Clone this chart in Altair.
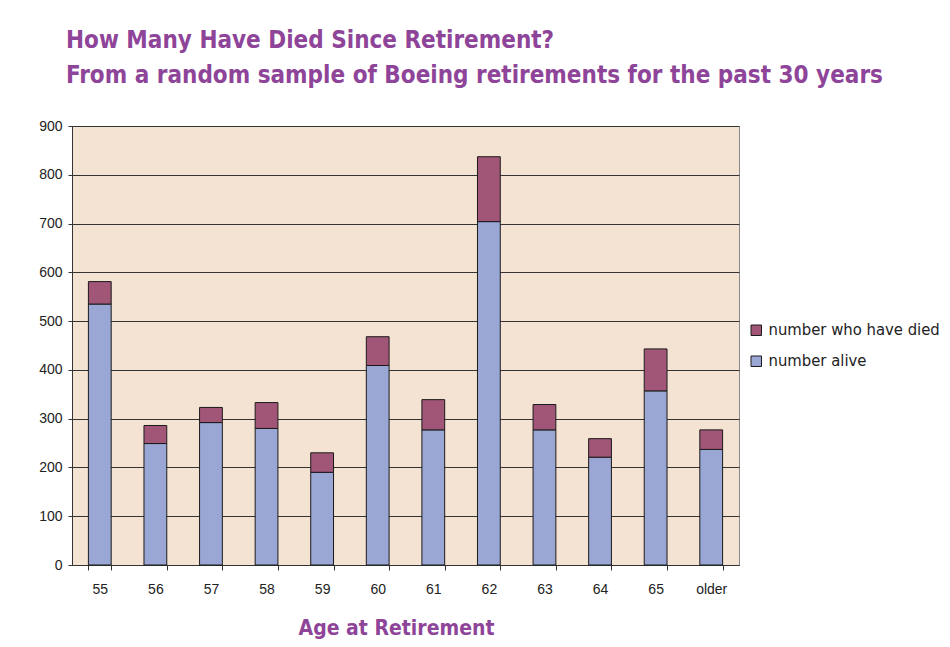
import altair as alt
import pandas as pd

ages = ["55", "56", "57", "58", "59", "60", "61", "62", "63", "64", "65", "older"]
alive = [535, 249, 292, 280, 190, 409, 277, 704, 277, 221, 357, 237]
died = [46, 37, 31, 53, 40, 59, 62, 133, 52, 38, 86, 40]
series = ["number who have died", "number alive"]
colors = ["#A15678", "#9AA6D4"]
y_ticks = [0, 100, 200, 300, 400, 500, 600, 700, 800, 900]

rows = []
for a, v in zip(ages, alive):
    rows.append({"age": a, "series": series[1], "value": v, "ord": 0})
for a, v in zip(ages, died):
    rows.append({"age": a, "series": series[0], "value": v, "ord": 1})
df = pd.DataFrame(rows)

purple = "#8E4599"
title_font = "Liberation Sans Narrow, DejaVu Sans Condensed, sans-serif"

chart = alt.Chart(df).mark_bar(stroke="#1a1a1a", strokeWidth=1).encode(
    x=alt.X("age:N", sort=ages,
            scale=alt.Scale(paddingInner=0.59, paddingOuter=0.295),
            axis=alt.Axis(title="Age at Retirement", labelAngle=0, tickBand="extent",
                          grid=False, domainColor="#333", tickColor="#333",
                          tickSize=5, labelPadding=12, labelFontSize=14,
                          labelFont="Liberation Sans", labelColor="#222",
                          titleFont=title_font, titleFontSize=21, titleFontWeight="bold",
                          titleColor=purple, titlePadding=21, titleX=324)),
    y=alt.Y("value:Q", stack="zero",
            scale=alt.Scale(domain=[0, 900], nice=False),
            axis=alt.Axis(title=None, values=y_ticks, grid=True, gridColor="#333",
                          gridWidth=1, domainColor="#333", tickColor="#333",
                          tickSize=4, labelPadding=6, labelFontSize=14,
                          labelFont="Liberation Sans", labelColor="#222")),
    color=alt.Color("series:N", scale=alt.Scale(domain=series, range=colors),
                    legend=alt.Legend(title=None, orient="none", legendX=676, legendY=196,
                                      symbolType="square", symbolSize=110,
                                      symbolStrokeColor="#1a1a1a", symbolStrokeWidth=1,
                                      labelFontSize=16.5, labelFont=title_font,
                                      labelColor="#222", rowPadding=14, labelLimit=250)),
    order=alt.Order("ord:Q", sort="ascending"),
).properties(
    width=667, height=439,
    autosize=alt.AutoSizeParams(type="none"),
    padding={"left": 64, "top": 118, "right": 203, "bottom": 74},
    title=alt.TitleParams(
        text=["How Many Have Died Since Retirement?",
              "From a random sample of Boeing retirements for the past 30 years"],
        anchor="start", frame="group", dx=-6, offset=31, font=title_font, fontSize=24,
        fontWeight="bold", color=purple, lineHeight=35),
).configure_view(fill="#F4E3D2", stroke="#888", strokeWidth=1)

chart.save("out.html", embed_options={"renderer": "svg", "actions": False})
